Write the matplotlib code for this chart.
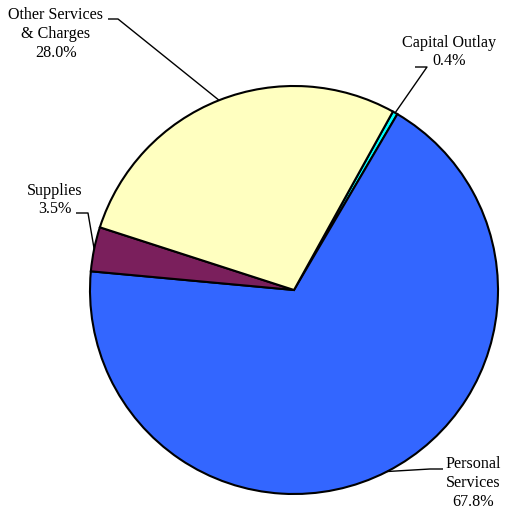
import numpy as np
import matplotlib.pyplot as plt

# expenditure breakdown, listed clockwise from the top
labels = ["Capital Outlay", "Personal\nServices", "Supplies", "Other Services\n& Charges"]
shares = [0.4, 67.8, 3.5, 28.0]
colors = ["#00FFFF", "#3366FF", "#7A1F5C", "#FFFFC0"]

W, H = 506, 509
fig = plt.figure(figsize=(W / 100, H / 100), dpi=100)
ax = fig.add_axes([0, 0, 1, 1])

cx, cy, r = 294, H - 290, 204
wedges, _ = ax.pie(shares, colors=colors, startangle=61, counterclock=False,
                   center=(cx, cy), radius=r, frame=True,
                   wedgeprops=dict(edgecolor="black", linewidth=1.5))
ax.set_xlim(0, W)
ax.set_ylim(0, H)
ax.set_aspect("equal")
ax.axis("off")

font = dict(family="Liberation Serif", fontsize=11.6, color="black", linespacing=1.22)

# label centre, stub start, stub end
layout = [
    ((449, H - 52), (415, H - 67), (427, H - 67)),
    ((473, H - 483), (443, H - 469), (430, H - 469)),
    ((55, H - 200), (76, H - 213), (88, H - 213)),
    ((56, H - 34), (108, H - 19), (118, H - 19)),
]

for w, lab, val, (tpos, s0, s1) in zip(wedges, labels, shares, layout):
    mid = np.deg2rad((w.theta1 + w.theta2) / 2)
    ex, ey = cx + r * np.cos(mid), cy + r * np.sin(mid)
    ax.plot([s0[0], s1[0], ex], [s0[1], s1[1], ey], color="black", lw=1.0,
            solid_capstyle="butt")
    ax.text(tpos[0], tpos[1], f"{lab}\n{val:.1f}%", ha="center", va="center", **font)

fig.savefig("out.png", dpi=100, facecolor="white")
